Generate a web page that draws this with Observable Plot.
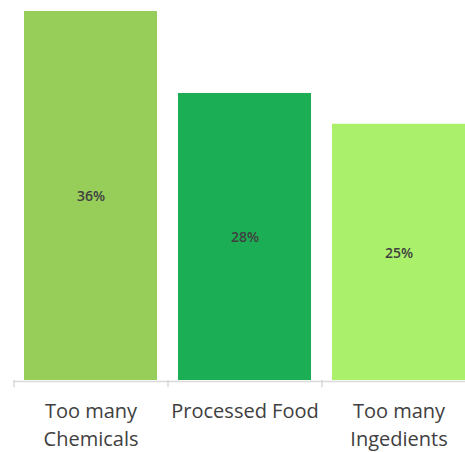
<!DOCTYPE html>
<html>
<head>
<meta charset="utf-8">
<script src="https://cdn.jsdelivr.net/npm/d3@7"></script>
<script src="https://cdn.jsdelivr.net/npm/@observablehq/plot@0.6"></script>
<style>
  html, body { margin: 0; padding: 0; background: #ffffff; overflow: hidden; }
  #chart { width: 465px; height: 452px; }
</style>
</head>
<body>
<div id="chart"></div>
<script>
const categories = ["Too many\nChemicals", "Processed Food", "Too many\nIngedients"];
const values = [36, 28, 25];
const valueLabels = ["36%", "28%", "25%"];
const barColors = ["#97ce5a", "#1cae54", "#abf06b"];

const data = categories.map((c, i) => ({category: c, value: values[i], label: valueLabels[i]}));

const W = 465;
const xRange = [14, 476];
const step = (xRange[1] - xRange[0]) / categories.length;

const chart = Plot.plot({
  width: W,
  height: 452,
  marginLeft: 14,
  marginRight: 0,
  marginTop: 11,
  marginBottom: 72,
  style: {fontFamily: "'Open Sans', sans-serif", background: "#ffffff", overflow: "hidden"},
  x: {domain: categories, range: xRange, paddingInner: 0.136, paddingOuter: 0.068, axis: null},
  y: {domain: [0, 36], range: [380, 11], axis: null},
  color: {domain: categories, range: barColors},
  marks: [
    Plot.barY(data, {x: "category", y: "value", fill: "category"}),
    Plot.ruleY([0], {stroke: "#d9d9d9", strokeWidth: 1.5, dy: 1}),
    Plot.ruleX(data, {x: "category", dx: -step / 2, y1: 0, y2: -0.7, stroke: "#d9d9d9", strokeWidth: 1.5}),
    Plot.text(data, {x: "category", y: d => d.value / 2, text: "label", fontSize: 14, fontWeight: 600, fill: "#404040", dy: 1}),
    Plot.text(data, {x: "category", y: 0, text: "category", lineAnchor: "top", dy: 18, fontSize: 20, lineHeight: 1.38, fill: "#404040"})
  ]
});
document.getElementById("chart").appendChild(chart);
</script>
</body>
</html>
